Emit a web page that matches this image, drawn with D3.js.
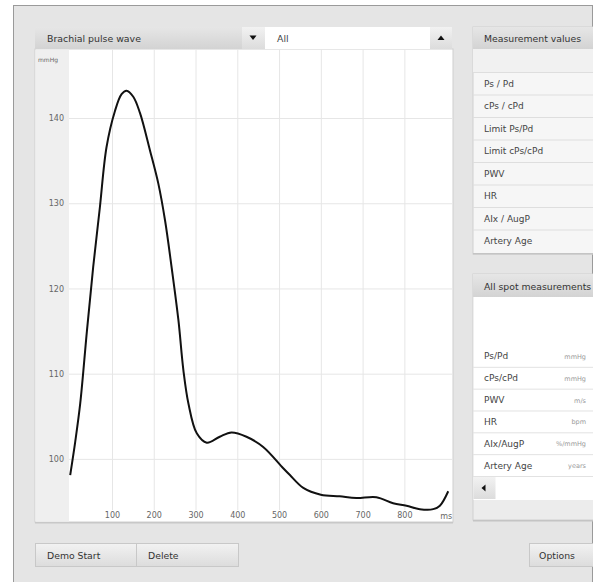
<!DOCTYPE html>
<html>
<head>
<meta charset="utf-8">
<script src="https://cdn.jsdelivr.net/npm/d3@7"></script>
<style>
  body { margin: 0; background: #fff; }
  svg { display: block; font-family: "DejaVu Sans", Verdana, sans-serif; }
</style>
</head>
<body>
<svg id="chart" width="596" height="582"></svg>
<script>
// pulse wave samples (ms, mmHg)
var times =     [0, 12, 24, 40, 55, 71, 87, 107, 123, 135, 151, 167, 191, 211, 227, 243, 259, 271, 283, 303, 327, 358, 386, 422, 462, 510, 526, 558, 600, 645, 685, 733, 773, 805, 837, 869, 885, 905];
var pressures = [98.1, 102, 106.5, 115, 122.5, 129.5, 136.6, 140.8, 142.8, 143.2, 142.5, 140.6, 136.2, 132.3, 128.0, 122.4, 116.3, 110.4, 106.5, 103.0, 101.9, 102.6, 103.1, 102.6, 101.4, 98.9, 98.1, 96.6, 95.8, 95.6, 95.4, 95.5, 94.8, 94.5, 94.1, 94.1, 94.5, 96.2];

var yTicks = [100, 110, 120, 130, 140];
var xTicks = [100, 200, 300, 400, 500, 600, 700, 800];

var measureLabels = ["Ps / Pd", "cPs / cPd", "Limit Ps/Pd", "Limit cPs/cPd", "PWV", "HR", "AIx / AugP", "Artery Age"];
var spotLabels = ["Ps/Pd", "cPs/cPd", "PWV", "HR", "AIx/AugP", "Artery Age"];
var spotUnits = ["mmHg", "mmHg", "m/s", "bpm", "%/mmHg", "years"];

var svg = d3.select("#chart");
var defs = svg.append("defs");

var grad = defs.append("linearGradient").attr("id", "hdr").attr("x1", 0).attr("y1", 0).attr("x2", 0).attr("y2", 1);
grad.append("stop").attr("offset", "0%").attr("stop-color", "#e6e6e6");
grad.append("stop").attr("offset", "100%").attr("stop-color", "#d3d3d3");

var btnGrad = defs.append("linearGradient").attr("id", "btn").attr("x1", 0).attr("y1", 0).attr("x2", 0).attr("y2", 1);
btnGrad.append("stop").attr("offset", "0%").attr("stop-color", "#f2f2f2");
btnGrad.append("stop").attr("offset", "100%").attr("stop-color", "#dcdcdc");

defs.append("clipPath").attr("id", "frameClip")
  .append("rect").attr("x", 14).attr("y", 6).attr("width", 579).attr("height", 580);

// outer frame
svg.append("rect").attr("x", 13.5).attr("y", 5.5).attr("width", 579).attr("height", 590)
  .attr("fill", "#e5e5e5").attr("stroke", "#9a9a9a");

var root = svg.append("g").attr("clip-path", "url(#frameClip)");

// ---------- chart panel ----------
var plot = {left: 69, right: 452, top: 49, bottom: 510};

root.append("rect").attr("x", 35).attr("y", 49).attr("width", 418).attr("height", 473)
  .attr("fill", "#fff").attr("stroke", "#cfcfcf");
root.append("rect").attr("x", 35).attr("y", 522).attr("width", 418).attr("height", 1.5).attr("fill", "#c8c8c8");
root.append("rect").attr("x", 35.5).attr("y", 49.5).attr("width", 33.5).attr("height", 472)
  .attr("fill", "#efefef");

var x = d3.scaleLinear().domain([0, 914]).range([70.2, plot.right]);
var y = d3.scaleLinear().domain([94.0, 148.1]).range([plot.bottom, plot.top]);

// grid
root.append("g")
  .attr("transform", "translate(0," + plot.bottom + ")")
  .call(d3.axisBottom(x).tickValues(xTicks).tickSize(-(plot.bottom - plot.top)).tickFormat(""))
  .call(function(g) {
    g.select(".domain").remove();
    g.selectAll("line").attr("stroke", "#e6e6e6");
  });
root.append("g")
  .attr("transform", "translate(" + plot.left + ",0)")
  .call(d3.axisLeft(y).tickValues(yTicks).tickSize(-(plot.right - plot.left)).tickFormat(""))
  .call(function(g) {
    g.select(".domain").remove();
    g.selectAll("line").attr("stroke", "#e6e6e6");
  });

// tick labels
root.append("g")
  .attr("transform", "translate(" + plot.left + ",0)")
  .call(d3.axisLeft(y).tickValues(yTicks).tickSize(0).tickPadding(5))
  .call(function(g) {
    g.select(".domain").remove();
    g.selectAll("text").attr("font-family", "DejaVu Sans").attr("font-size", 8).attr("fill", "#666");
  });
root.append("g")
  .attr("transform", "translate(0," + (plot.bottom + 1) + ")")
  .call(d3.axisBottom(x).tickValues(xTicks).tickSize(0).tickPadding(1))
  .call(function(g) {
    g.select(".domain").remove();
    g.selectAll("text").attr("font-family", "DejaVu Sans").attr("font-size", 8).attr("fill", "#666");
  });
root.append("text").attr("x", x(900)).attr("y", 519).attr("text-anchor", "middle")
  .attr("font-size", 8).attr("fill", "#666").text("ms");
root.append("text").attr("x", 38).attr("y", 62).attr("font-size", 6).attr("fill", "#666").text("mmHg");

// pulse curve
var line = d3.line()
  .x(function(d, i) { return x(times[i]); })
  .y(function(d) { return y(d); })
  .curve(d3.curveCatmullRom.alpha(0.5));

root.append("path").datum(pressures)
  .attr("d", line)
  .attr("fill", "none").attr("stroke", "#111").attr("stroke-width", 2);

// header: selector + dropdowns
root.append("rect").attr("x", 35).attr("y", 27).attr("width", 207).attr("height", 22).attr("fill", "url(#hdr)");
root.append("text").attr("x", 47).attr("y", 41.5).attr("font-size", 9.4).attr("fill", "#333").text("Brachial pulse wave");
root.append("rect").attr("x", 242).attr("y", 27).attr("width", 23).attr("height", 22).attr("fill", "url(#btn)");
root.append("path").attr("d", "M249.5,35.5 L256.5,35.5 L253,40 Z").attr("fill", "#111");
root.append("rect").attr("x", 265).attr("y", 27).attr("width", 165).attr("height", 22).attr("fill", "#fff");
root.append("text").attr("x", 277).attr("y", 41.5).attr("font-size", 9.4).attr("fill", "#444").text("All");
root.append("rect").attr("x", 430).attr("y", 27).attr("width", 22).attr("height", 22).attr("fill", "url(#btn)");
root.append("path").attr("d", "M437.5,40 L444.5,40 L441,35.5 Z").attr("fill", "#111");

// ---------- measurement values panel ----------
var px = 473;
root.append("rect").attr("x", px).attr("y", 27).attr("width", 140).attr("height", 227)
  .attr("fill", "#f6f6f6").attr("stroke", "#d0d0d0");
root.append("rect").attr("x", px).attr("y", 27).attr("width", 140).attr("height", 22).attr("fill", "url(#hdr)");
root.append("text").attr("x", 484).attr("y", 41.5).attr("font-size", 9.3).attr("fill", "#333").text("Measurement values");
root.append("rect").attr("x", px).attr("y", 49).attr("width", 140).attr("height", 23).attr("fill", "#f1f1f1");

var rowM = d3.scaleBand().domain(measureLabels).range([72, 252]);
var mRows = root.append("g").selectAll("g").data(measureLabels).enter().append("g")
  .attr("transform", function(d) { return "translate(0," + rowM(d) + ")"; });
mRows.append("line").attr("x1", px).attr("x2", 600).attr("y1", 0.5).attr("y2", 0.5).attr("stroke", "#dedede");
mRows.append("text").attr("x", 484).attr("y", rowM.bandwidth() / 2 + 3.5)
  .attr("font-size", 9).attr("fill", "#444").text(function(d) { return d; });
root.append("rect").attr("x", px).attr("y", 253).attr("width", 140).attr("height", 1.5).attr("fill", "#c4c4c4");

// ---------- all spot measurements panel ----------
root.append("rect").attr("x", px).attr("y", 274).attr("width", 140).attr("height", 246)
  .attr("fill", "#ececec").attr("stroke", "#d0d0d0");
root.append("rect").attr("x", px).attr("y", 274).attr("width", 140).attr("height", 23).attr("fill", "url(#hdr)");
root.append("text").attr("x", 484).attr("y", 289.5).attr("font-size", 9.3).attr("fill", "#333").text("All spot measurements");
root.append("rect").attr("x", px + 0.5).attr("y", 297).attr("width", 139).attr("height", 203).attr("fill", "#fff");

var rowS = d3.scaleBand().domain(spotLabels).range([345, 476]);
var sRows = root.append("g").selectAll("g").data(spotLabels).enter().append("g")
  .attr("transform", function(d) { return "translate(0," + rowS(d) + ")"; });
sRows.append("line").attr("x1", px).attr("x2", 600).attr("y1", rowS.bandwidth() + 0.5).attr("y2", rowS.bandwidth() + 0.5)
  .attr("stroke", "#e2e2e2");
sRows.append("text").attr("x", 484).attr("y", rowS.bandwidth() / 2 + 3.5)
  .attr("font-size", 9).attr("fill", "#444").text(function(d) { return d; });
sRows.append("text").attr("x", 586).attr("y", rowS.bandwidth() / 2 + 3).attr("text-anchor", "end")
  .attr("font-size", 6.5).attr("fill", "#999").text(function(d, i) { return spotUnits[i]; });

root.append("rect").attr("x", px + 0.5).attr("y", 477).attr("width", 22).attr("height", 22).attr("fill", "url(#btn)");
root.append("path").attr("d", "M481.5,488 L485.5,484.5 L485.5,491.5 Z").attr("fill", "#111");
root.append("rect").attr("x", px).attr("y", 520).attr("width", 140).attr("height", 1.5).attr("fill", "#c4c4c4");

// ---------- buttons ----------
var buttons = [{label: "Demo Start", x: 35, w: 101}, {label: "Delete", x: 136, w: 102}, {label: "Options", x: 529, w: 64}];
var b = root.append("g").selectAll("g").data(buttons).enter().append("g");
b.append("rect").attr("x", function(d) { return d.x + 0.5; }).attr("y", 543.5)
  .attr("width", function(d) { return d.w; }).attr("height", 23)
  .attr("fill", "url(#btn)").attr("stroke", "#c8c8c8");
b.append("text")
  .attr("x", function(d) { return d.label === "Options" ? d.x + 28 : d.x + 12; })
  .attr("y", 558.5)
  .attr("text-anchor", function(d) { return d.label === "Options" ? "middle" : "start"; })
  .attr("font-size", 9.3).attr("fill", "#333").text(function(d) { return d.label; });
</script>
</body>
</html>
